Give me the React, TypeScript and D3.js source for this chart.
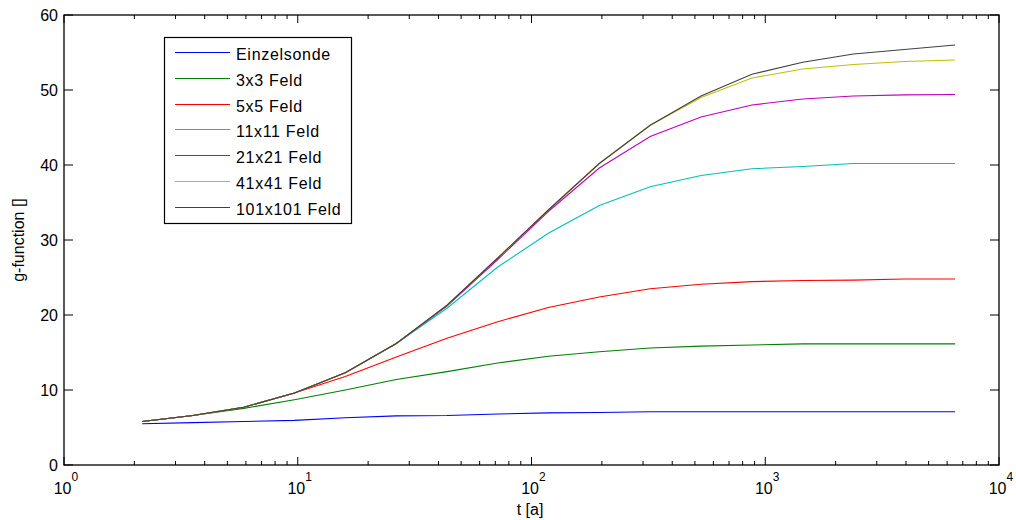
import React from "react";
import * as d3 from "d3";

const tValues = [2.16, 3.56, 5.87, 9.68, 15.97, 26.4, 43.5, 71.7, 118, 195, 322, 531, 877, 1446, 2385, 3935, 6490];

const seriesNames = ["Einzelsonde", "3x3 Feld", "5x5 Feld", "11x11 Feld", "21x21 Feld", "41x41 Feld", "101x101 Feld"];
const seriesColors = ["#0000ff", "#008000", "#ff0000", "#00bfbf", "#bf00bf", "#bfbf00", "#404040"];

const einzel = [5.5, 5.65, 5.8, 5.95, 6.3, 6.55, 6.6, 6.8, 6.95, 7.0, 7.1, 7.1, 7.1, 7.1, 7.1, 7.1, 7.1];
const feld3 = [5.8, 6.6, 7.55, 8.7, 10.0, 11.4, 12.45, 13.6, 14.5, 15.1, 15.6, 15.85, 16.0, 16.15, 16.15, 16.15, 16.15];
const feld5 = [5.8, 6.6, 7.7, 9.6, 11.8, 14.4, 16.9, 19.1, 21.0, 22.4, 23.5, 24.1, 24.45, 24.6, 24.65, 24.8, 24.8];
const feld11 = [5.8, 6.6, 7.7, 9.6, 12.3, 16.2, 20.9, 26.4, 30.9, 34.6, 37.1, 38.6, 39.5, 39.8, 40.2, 40.2, 40.2];
const feld21 = [5.8, 6.6, 7.7, 9.6, 12.3, 16.2, 21.2, 27.4, 33.8, 39.6, 43.8, 46.4, 48.0, 48.8, 49.2, 49.35, 49.4];
const feld41 = [5.8, 6.6, 7.7, 9.6, 12.3, 16.2, 21.3, 27.6, 34.0, 40.2, 45.3, 49.0, 51.6, 52.8, 53.4, 53.8, 54.0];
const feld101 = [5.8, 6.6, 7.7, 9.6, 12.3, 16.2, 21.3, 27.6, 34.0, 40.2, 45.3, 49.2, 52.1, 53.7, 54.8, 55.4, 56.0];

const seriesValues = [einzel, feld3, feld5, feld11, feld21, feld41, feld101];

const yTicks = [0, 10, 20, 30, 40, 50, 60];
const xDecades = [0, 1, 2, 3, 4];

const W = 1016;
const H = 520;
const L = 64, R = 999, T = 15, B = 465;
const FONT = "'Liberation Sans', Arial, Helvetica, sans-serif";

export default function App() {
  const x = d3.scaleLog().domain([1, 10000]).range([L, R]);
  const y = d3.scaleLinear().domain([0, 60]).range([B, T]);
  const line = d3
    .line<[number, number]>()
    .x((d) => x(d[0]))
    .y((d) => y(d[1]));

  const minorTicks: number[] = [];
  for (let e = 0; e < 4; e++) {
    for (let m = 2; m <= 9; m++) minorTicks.push(m * Math.pow(10, e));
  }

  const legX = 164.5, legY = 37.5, legW = 187, legH = 186;
  const rowH = 25.8;

  return (
    <svg
      width={W}
      height={H}
      style={{ position: "absolute", left: 0, top: 0, background: "#fff" }}
      fontFamily={FONT}
    >
      <rect x={0} y={0} width={W} height={H} fill="#fff" />
      {/* data lines */}
      <g fill="none" strokeWidth={1.1}>
        {seriesValues.map((vals, i) => (
          <path
            key={i}
            d={line(vals.map((v, j) => [tValues[j], v] as [number, number])) || ""}
            stroke={seriesColors[i]}
          />
        ))}
      </g>
      {/* axes box */}
      <rect x={L} y={T} width={R - L} height={B - T} fill="none" stroke="#000" strokeWidth={1.3} />
      {/* ticks */}
      <g stroke="#000" strokeWidth={1}>
        {yTicks.map((v) => (
          <g key={v}>
            <line x1={L} x2={L + 9} y1={y(v)} y2={y(v)} />
            <line x1={R} x2={R - 9} y1={y(v)} y2={y(v)} />
          </g>
        ))}
        {xDecades.map((e) => {
          const px = x(Math.pow(10, e));
          return (
            <g key={e}>
              <line x1={px} x2={px} y1={B} y2={B - 8} />
              <line x1={px} x2={px} y1={T} y2={T + 8} />
            </g>
          );
        })}
        {minorTicks.map((v) => {
          const px = x(v);
          return (
            <g key={v}>
              <line x1={px} x2={px} y1={B} y2={B - 4} />
              <line x1={px} x2={px} y1={T} y2={T + 4} />
            </g>
          );
        })}
      </g>
      {/* y tick labels */}
      <g fontSize={16} fill="#000" textAnchor="end">
        {yTicks.map((v) => (
          <text key={v} x={L - 6} y={y(v) + 6}>
            {v}
          </text>
        ))}
      </g>
      {/* x tick labels */}
      <g fill="#000">
        {xDecades.map((e) => {
          const px = x(Math.pow(10, e));
          return (
            <g key={e}>
              <text x={px + 7.5} y={494} fontSize={16} textAnchor="end">
                10
              </text>
              <text x={px + 7.5} y={481} fontSize={12}>
                {e}
              </text>
            </g>
          );
        })}
      </g>
      {/* axis labels */}
      <text x={530} y={515} fontSize={16} textAnchor="middle" fill="#000">
        t [a]
      </text>
      <text
        transform={`translate(24, ${(T + B) / 2}) rotate(-90)`}
        fontSize={16}
        textAnchor="middle"
        fill="#000"
      >
        g-function []
      </text>
      {/* legend */}
      <rect x={legX} y={legY} width={legW} height={legH} fill="#fff" stroke="#000" strokeWidth={1.2} />
      {seriesNames.map((name, i) => {
        const ly = Math.round(52 + i * rowH) + 0.5;
        return (
          <g key={name}>
            <line x1={175} x2={230} y1={ly} y2={ly} stroke={seriesColors[i]} strokeWidth={1} />
            <text x={236} y={ly + 7.5} fontSize={16} letterSpacing={0.7} fill="#000">
              {name}
            </text>
          </g>
        );
      })}
    </svg>
  );
}
